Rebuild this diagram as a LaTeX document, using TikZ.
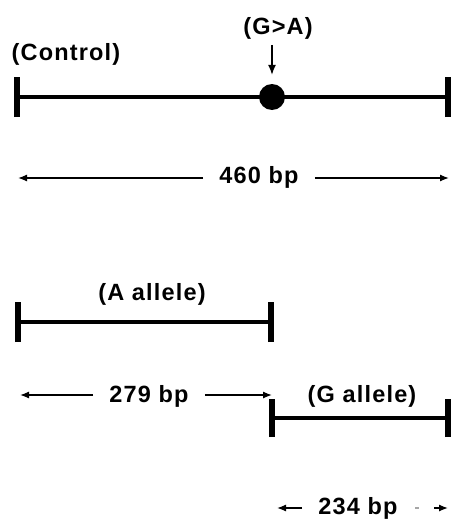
\documentclass[tikz,border=0pt]{standalone}
\usepackage{fontspec}
\setmainfont[LetterSpace=5]{Liberation Sans}
\usetikzlibrary{arrows.meta}
\begin{document}
\begin{tikzpicture}[x=1pt,y=-1pt,
  seg/.style={line width=4.5pt},
  tick/.style={line width=6pt},
  dim/.style={line width=1.3pt,-{Latex[length=9pt,width=7pt]}},
  lbl/.style={font=\fontsize{23.5}{27}\selectfont\bfseries, inner sep=0pt, anchor=base},
  gap/.style={inner xsep=16pt},
]
\useasboundingbox (0,0) rectangle (452,519);

% control fragment with the G>A site
\coordinate (c1) at (17,97);
\coordinate (c2) at (448,97);
\draw[seg] (c1) -- (c2);
\draw[tick] ([yshift=-20pt]c1) -- ([yshift=20pt]c1);
\draw[tick] ([yshift=-20pt]c2) -- ([yshift=20pt]c2);
\node[circle, fill=black, minimum size=26pt, inner sep=0pt] (snp) at (272,97) {};
\node[lbl] (ctrl) at (66,60) {(Control)};
\node[lbl] (ga) at (278,35) {(G>A)};
\coordinate (gatop) at (272,45);
\draw[dim, -{Latex[length=10pt,width=8pt]}, shorten >=9pt] (gatop) -- (snp.north);

% 460 bp dimension
\node[lbl, gap] (d460) at (259,183) {460 bp};
\coordinate (l460a) at (18,178);
\coordinate (l460b) at (449,178);
\draw[dim] (d460.west |- l460a) -- (l460a);
\draw[dim] (d460.east |- l460b) -- (l460b);

% A allele fragment
\coordinate (a1) at (18,322);
\coordinate (a2) at (271,322);
\draw[seg] (a1) -- (a2);
\draw[tick] ([yshift=-20pt]a1) -- ([yshift=20pt]a1);
\draw[tick] ([yshift=-20pt]a2) -- ([yshift=20pt]a2);
\node[lbl] (aall) at (152,300) {(A allele)};

% 279 bp dimension
\node[lbl, gap] (d279) at (149,402) {279 bp};
\coordinate (l279a) at (20,395);
\coordinate (l279b) at (272,395);
\draw[dim] (d279.west |- l279a) -- (l279a);
\draw[dim] (d279.east |- l279b) -- (l279b);

% G allele fragment
\coordinate (g1) at (272,418);
\coordinate (g2) at (448,418);
\draw[seg] (g1) -- (g2);
\draw[tick] ([yshift=-19pt]g1) -- ([yshift=19pt]g1);
\draw[tick] ([yshift=-19pt]g2) -- ([yshift=19pt]g2);
\node[lbl] (gall) at (362,402) {(G allele)};

% 234 bp dimension
\node[lbl, gap] (d234) at (358,514) {234 bp};
\coordinate (l234a) at (277,508);
\coordinate (l234b) at (448,508);
\coordinate (l234c) at (434,508);
\draw[dim] (d234.west |- l234a) -- (l234a);
\draw[dim] (l234c) -- (l234b);
\draw[line width=1.3pt, black!35] (415,508) -- (419,508);
\end{tikzpicture}
\end{document}
